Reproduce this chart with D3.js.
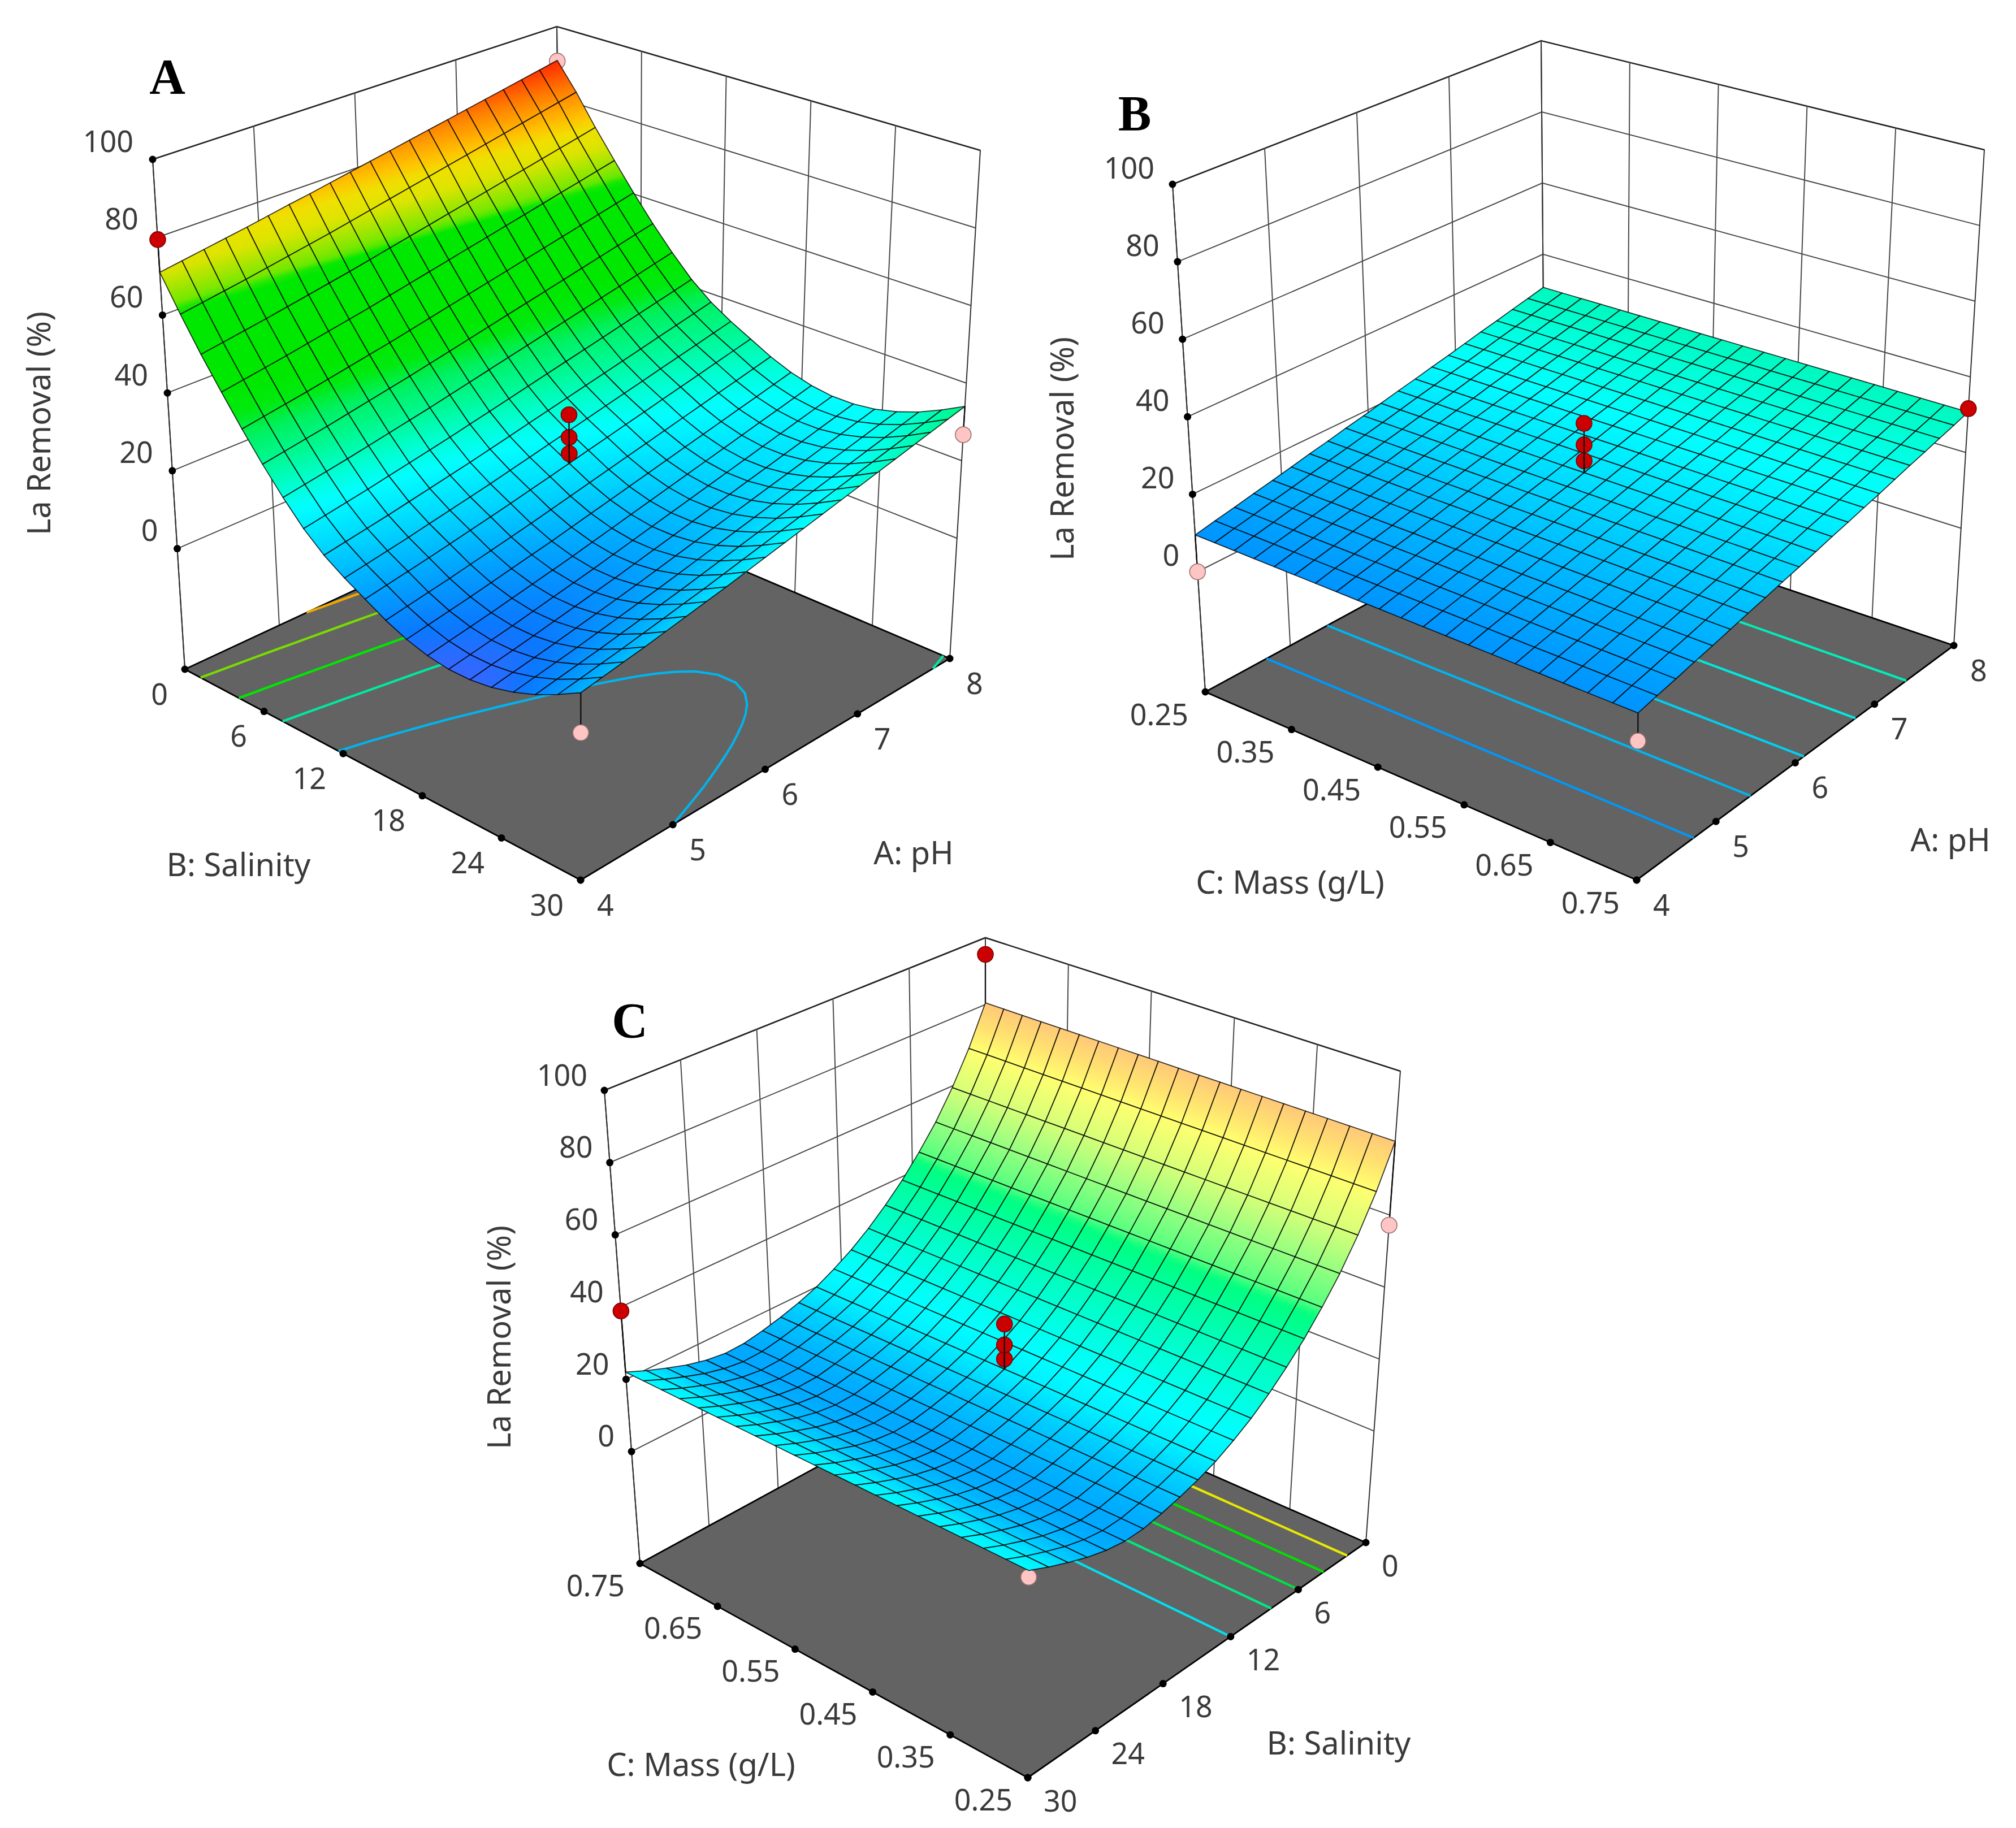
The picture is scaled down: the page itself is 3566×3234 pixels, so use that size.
<!DOCTYPE html>
<html><head><meta charset="utf-8">
<script src="https://cdn.jsdelivr.net/npm/d3@7"></script>
<style>html,body{margin:0;background:#fff}svg{display:block}</style></head>
<body><svg id="c" width="3566" height="3234" viewBox="0 0 3566 3234"></svg>
<script>
// ---------- data ----------
const zTicks=[0,20,40,60,80,100];
const pHTicks=[4,5,6,7,8];
const salinityTicks=[30,24,18,12,6,0];
const massTicksUp=[0.25,0.35,0.45,0.55,0.65,0.75];
const massTicksDown=[0.75,0.65,0.55,0.45,0.35,0.25];

// rows: salinity 30 -> 0, columns: pH 4 -> 8
const surfaceA=[
[13,13.9,14.8,15.7,16.7,17.7,18.7,19.7,20.8,21.9,23,24.1,25.2,26.3,27.4,28.5,29.6,30.7,31.8,32.9,34],
[10,10.9,11.8,12.7,13.7,14.7,15.7,16.7,17.8,18.9,20,21.1,22.2,23.3,24.4,25.5,26.6,27.7,28.8,29.9,31],
[7.4,8.3,9.2,10.1,11.1,12.1,13.1,14.1,15.2,16.3,17.4,18.5,19.6,20.7,21.8,22.9,24,25.1,26.2,27.3,28.4],
[5.4,6.3,7.2,8.1,9.1,10.1,11.1,12.1,13.2,14.3,15.4,16.5,17.6,18.7,19.8,20.9,22,23.1,24.2,25.3,26.4],
[4,4.9,5.8,6.7,7.7,8.7,9.7,10.7,11.8,12.9,14,15.1,16.2,17.3,18.4,19.5,20.6,21.7,22.8,23.9,25],
[3.3,4.2,5.1,6,7,8,9,10,11.1,12.2,13.3,14.4,15.5,16.6,17.7,18.8,19.9,21,22.1,23.2,24.3],
[3.3,4.2,5.1,6,7,8,9,10,11.1,12.2,13.3,14.4,15.5,16.6,17.7,18.8,19.9,21,22.1,23.2,24.3],
[4.1,5,5.9,6.8,7.8,8.8,9.8,10.8,11.9,13,14.1,15.2,16.3,17.4,18.5,19.6,20.7,21.8,22.9,24,25.1],
[5.6,6.5,7.4,8.3,9.3,10.3,11.3,12.3,13.4,14.5,15.6,16.7,17.8,18.9,20,21.1,22.2,23.3,24.4,25.5,26.6],
[7.8,8.7,9.6,10.5,11.5,12.5,13.5,14.5,15.6,16.7,17.8,18.9,20,21.1,22.2,23.3,24.4,25.5,26.6,27.7,28.8],
[10.6,11.5,12.4,13.3,14.3,15.3,16.3,17.3,18.4,19.5,20.6,21.7,22.8,23.9,25,26.1,27.2,28.3,29.4,30.5,31.6],
[13.4,14.3,15.2,16.1,17.1,18.1,19.1,20.1,21.2,22.3,23.4,24.5,25.6,26.7,27.8,28.9,30,31.1,32.2,33.3,34.4],
[16.7,17.6,18.5,19.4,20.4,21.4,22.4,23.4,24.5,25.6,26.7,27.8,28.9,30,31.1,32.2,33.3,34.4,35.5,36.6,37.7],
[21,21.9,22.8,23.7,24.7,25.7,26.7,27.7,28.8,29.9,31,32.1,33.2,34.3,35.4,36.5,37.6,38.7,39.8,40.9,42],
[26.5,27.4,28.3,29.2,30.2,31.2,32.2,33.2,34.3,35.4,36.5,37.6,38.7,39.8,40.9,42,43.1,44.2,45.3,46.4,47.5],
[32.6,33.5,34.4,35.3,36.3,37.3,38.3,39.3,40.4,41.5,42.6,43.7,44.8,45.9,47,48.1,49.2,50.3,51.4,52.5,53.6],
[39.3,40.2,41.1,42,43,44,45,46,47.1,48.2,49.3,50.4,51.5,52.6,53.7,54.8,55.9,57,58.1,59.2,60.3],
[46.5,47.4,48.3,49.2,50.2,51.2,52.2,53.2,54.3,55.4,56.5,57.6,58.7,59.8,60.9,62,63.1,64.2,65.3,66.4,67.5],
[54,54.9,55.8,56.7,57.7,58.7,59.7,60.7,61.8,62.9,64,65.1,66.2,67.3,68.4,69.5,70.6,71.7,72.8,73.9,75],
[62.2,63.1,64,64.9,65.9,66.9,67.9,68.9,70,71.1,72.2,73.3,74.4,75.5,76.6,77.7,78.8,79.9,81,82.1,83.2],
[71,71.9,72.8,73.7,74.6,75.6,76.6,77.5,78.5,79.5,80.5,81.5,82.5,83.5,84.5,85.5,86.5,87.5,88.5,89.5,90.5]];
// rows: mass 0.75 -> 0.25, columns: pH 4 -> 8 (mass has almost no effect)
const rowB=[9.5,10.6,11.6,12.7,13.7,14.8,15.9,16.9,18,19,20.1,21.2,22.2,23.3,24.3,25.4,26.5,27.5,28.6,29.6,30.7];
const surfaceB=[rowB,rowB,rowB,rowB,rowB,rowB,rowB,rowB,rowB,rowB,rowB,rowB,rowB,rowB,rowB,rowB,rowB,rowB,rowB,rowB,rowB];
// rows: mass 0.25 -> 0.75, columns: salinity 30 -> 0 (mass has almost no effect)
const rowC=[22,19.7,17.7,15.9,14.6,13.9,14.1,15.1,16.4,18,20,22.7,25.8,29.6,34,39,44.9,51.5,59.5,69,80.5];
const surfaceC=[rowC,rowC,rowC,rowC,rowC,rowC,rowC,rowC,rowC,rowC,rowC,rowC,rowC,rowC,rowC,rowC,rowC,rowC,rowC,rowC,rowC];

// contour levels on the floor and their colours
const contourLevelsA=[17.7,33,48.5,64,77];
const contourColorsA=["#00b4ee","#00e8a0","#00e800","#78dc00","#f0a800"];
const contourLevelsB=[13.3,17.1,20.7,24.1,27.5];
const contourColorsB=["#0098f8","#00b4f0","#00d0f0","#00e8e0","#00eeb8"];
const contourLevelsC=[25.8,36,45,55.5,68];
const contourColorsC=["#00e0f0","#00e880","#00e040","#00e000","#e8e800"];

// colour ramps: z value -> colour
const rampZA=[3,6,12,18,24,28,33,38,42,46,63,64.5,71,75,78,84,90.5];
const rampColA=["#3c64ff","#0a78ff","#00a8ff","#00d8ff","#00ffff","#00ffd0","#00f890","#00f060","#00ea10","#00e800","#00e800","#70e800","#dce400","#f0e000","#ffc000","#ff8000","#ff2800"];
const rampZB=[9,15,20,24,28,32];
const rampColB=["#0090ff","#00b8ff","#00e0ff","#00ffff","#00ffd8","#00f5b0"];
const rampZC=[14,17,20,23,33,43,45,52,60,69,75,80.5];
const rampColC=["#00a8ff","#00c8ff","#00f0ff","#00ffff","#00ffc0","#00ff80","#58ff80","#98ff80","#d8ff78","#ffff70","#ffe070","#ffc878"];

// design points
const designXA=[4,8,8,4,6,6,6], designYA=[0,0,30,30,15,15,15], designZA=[79.4,90.3,26.7,3.6,33.1,27.3,23.1];
const designKindA=["r","p","p","p","r","r","r"];
const designXB=[4,8,4,6,6,6], designYB=[0.25,0.75,0.75,0.5,0.5,0.5], designZB=[0,31.6,2.7,33,27.4,23.2];
const designKindB=["p","r","p","r","r","r"];
const designXC=[0,30,0,30,15,15,15], designYC=[0.75,0.75,0.25,0.25,0.5,0.5,0.5], designZC=[95,38.9,57.2,20.3,32.5,26.7,22.8];
const designKindC=["r","r","p","p","r","r","r"];

const zTitle="La Removal (%)", fmt2=d3.format(".2f");

// ---------- layout ----------
const panels=[
{letter:"A",letterAt:[296,135],surface:surfaceA,levels:contourLevelsA,levelCols:contourColorsA,rampZ:rampZA,rampC:rampColA,
 floor:[[1027,1557],[1680,1165],[995,873],[327,1184]],top:[[1028,570],[1734,266],[985,47],[270,282]],
 pDomain:[4,8],pTicks:pHTicks,pFmt:String,qDomain:[30,0],qTicks:salinityTicks,qFmt:String,
 dx:designXA,dy:designYA,dz:designZA,dk:designKindA,
 titles:{z:[67,749],q:["B: Salinity",422,1528],p:["A: pH",1616,1507]},off:{z:[-34,-34],q:[-30,42],p:[29,42]}},
{letter:"B",letterAt:[2007,200],surface:surfaceB,levels:contourLevelsB,levelCols:contourColorsB,rampZ:rampZB,rampC:rampColB,
 floor:[[2895,1557],[3456,1142],[2733,897],[2132,1224]],top:[[2903,601],[3510,265],[2726,72],[2074,326]],
 pDomain:[4,8],pTicks:pHTicks,pFmt:String,qDomain:[0.75,0.25],qTicks:massTicksDown,qFmt:fmt2,
 dx:designXB,dy:designYB,dz:designZB,dk:designKindB,
 titles:{z:[1877,794],q:["C: Mass (g/L)",2282,1559],p:["A: pH",3450,1484]},off:{z:[-32,-31],q:[-30,38],p:[29,42]}},
{letter:"C",letterAt:[1114,1805],surface:surfaceC,levels:contourLevelsC,levelCols:contourColorsC,rampZ:rampZC,rampC:rampColC,
 floor:[[1818,3145],[2416,2729],[1743,2433],[1132,2766]],top:[[1822,2239],[2477,1895],[1743,1659],[1069,1929]],
 pDomain:[30,0],pTicks:salinityTicks,pFmt:String,qDomain:[0.25,0.75],qTicks:massTicksUp,qFmt:fmt2,
 dx:designXC,dy:designYC,dz:designZC,dk:designKindC,
 titles:{z:[881,2366],q:["C: Mass (g/L)",1240,3120],p:["B: Salinity",2368,3082]},off:{z:[-30,-29],q:[-27,37],p:[28,39]}}
];
const zFloor=-31, zTop=100, FONT="'Noto Sans',sans-serif", TXT="#3a3a3a", FS=52, FST=56;

// face maps: perspective for surface and points, even spacing for axes and walls
function homography(c){
 const [[x0,y0],[x1,y1],[x2,y2],[x3,y3]]=c;
 const dx1=x1-x2,dx2=x3-x2,sx=x0-x1+x2-x3,dy1=y1-y2,dy2=y3-y2,sy=y0-y1+y2-y3;
 const den=dx1*dy2-dx2*dy1,G=(sx*dy2-dx2*sy)/den,H=(dx1*sy-sx*dy1)/den;
 const a=x1-x0+G*x1,b=x3-x0+H*x3,d=y1-y0+G*y1,e=y3-y0+H*y3;
 return (u,v)=>{const w=G*u+H*v+1;return [(a*u+b*v+x0)/w,(d*u+e*v+y0)/w];};
}
function bilinear(c){
 return (u,v)=>[0,1].map(k=>(1-u)*(1-v)*c[0][k]+u*(1-v)*c[1][k]+u*v*c[2][k]+(1-u)*v*c[3][k]);
}
const mix=(a,b,r)=>[a[0]+(b[0]-a[0])*r,a[1]+(b[1]-a[1])*r];

const svg=d3.select("#c"),defs=svg.append("defs");
let gid=0;
panels.forEach(P=>{
 const hF=homography(P.floor),hT=homography(P.top),bF=bilinear(P.floor),bT=bilinear(P.top);
 const pr=(p,q,r)=>mix(hF(p,q),hT(p,q),r);   // surface + design points
 const ax=(p,q,r)=>mix(bF(p,q),bT(p,q),r);   // axes, walls, floor
 const pS=d3.scaleLinear().domain(P.pDomain).range([0,1]);
 const qS=d3.scaleLinear().domain(P.qDomain).range([0,1]);
 const rS=d3.scaleLinear().domain([zFloor,zTop]).range([0,1]);
 const n=P.surface.length;
 const gridS=d3.scaleLinear().domain([0,n-1]).range([0,1]);
 const color=d3.scaleLinear().domain(P.rampZ).range(P.rampC).clamp(true);
 const g=svg.append("g");
 const line=(a,b,col,w)=>g.append("line").attr("x1",a[0]).attr("y1",a[1]).attr("x2",b[0]).attr("y2",b[1]).attr("stroke",col).attr("stroke-width",w).attr("stroke-linecap","round");
 const dot=(a,r=6.5)=>g.append("circle").attr("cx",a[0]).attr("cy",a[1]).attr("r",r).attr("fill","#000");
 const WALL="#4a4a4a";
 // wall grid
 zTicks.forEach(z=>{const r=rS(z);const a=ax(0,1,r),b=ax(1,1,r),c=ax(1,0,r);
  g.append("path").attr("d",d3.line()([a,b,c])).attr("fill","none").attr("stroke",z===100?"#222":WALL).attr("stroke-width",z===100?2.6:2);});
 P.pTicks.forEach(v=>{const p=pS(v);line(ax(p,1,0),ax(p,1,1),p===0||p===1?"#333":WALL,2);});
 P.qTicks.forEach(v=>{const q=qS(v);line(ax(1,q,0),ax(1,q,1),q===0||q===1?"#333":WALL,2);});
 line(ax(0,1,0),ax(0,1,1),"#333",2);
 // floor
 g.append("path").attr("d",d3.line().curve(d3.curveLinearClosed)(P.floor)).attr("fill","#636363").attr("stroke","#000").attr("stroke-width",2.8);
 // floor contours
 const flat=P.surface.flat();
 const rings=d3.contours().size([n,n]).thresholds(P.levels)(flat);
 const lineGen=d3.line();
 const smooth=a=>{let b=a;for(let t=0;t<2;t++){b=b.map((d,i)=>(i===0||i===b.length-1)?d:[(b[i-1][0]+2*d[0]+b[i+1][0])/4,(b[i-1][1]+2*d[1]+b[i+1][1])/4]);}return b;};
 rings.forEach((cn,li)=>{
  const conv=d=>{const cl=v=>Math.max(0,Math.min(1,(v-0.5)/(n-1)));return [cl(d[0]),cl(d[1])];};
  const polylines=[];
  cn.coordinates.forEach(poly=>poly.forEach(ring=>{
   let cur=null;
   for(let i=1;i<ring.length;i++){
    const a=conv(ring[i-1]),b=conv(ring[i]);
    const same=(a[0]===b[0]&&(a[0]===0||a[0]===1))||(a[1]===b[1]&&(a[1]===0||a[1]===1));
    if(same){if(cur)polylines.push(cur);cur=null;continue;}
    if(!cur)cur=[a];
    cur.push(b);
   }
   if(cur)polylines.push(cur);
  }));
  polylines.forEach(pl=>g.append("path").attr("d",lineGen(smooth(pl).map(d=>ax(d[0],d[1],0)))).attr("fill","none").attr("stroke",P.levelCols[li]).attr("stroke-width",4.2).attr("stroke-linejoin","round"));
 });
 // ticks + labels
 const text=(s,x,y,anchor,fs=FS)=>g.append("text").attr("x",x).attr("y",y).attr("text-anchor",anchor).attr("dominant-baseline","central")
   .attr("font-family",FONT).attr("font-size",fs).attr("fill",TXT).text(s);
 zTicks.forEach(z=>{const a=ax(0,1,rS(z));dot(a);text(String(z),a[0]+P.off.z[0],a[1]+P.off.z[1],"end");});
 P.qTicks.forEach(v=>{const a=ax(0,qS(v),0);dot(a);text(P.qFmt(v),a[0]+P.off.q[0],a[1]+P.off.q[1],"end");});
 P.pTicks.forEach(v=>{const a=ax(pS(v),0,0);dot(a);text(P.pFmt(v),a[0]+P.off.p[0],a[1]+P.off.p[1],"start");});
 // design points
 const pts=P.dx.map((x,i)=>{const p=pS(x),q=qS(P.dy[i]);
  const sz=P.surface[Math.round(q*(n-1))][Math.round(p*(n-1))];
  return {p,q,z:P.dz[i],sz,kind:P.dk[i],above:P.dz[i]>sz};});
 const drawPt=d=>{const c=pr(d.p,d.q,rS(d.z)),s=pr(d.p,d.q,rS(d.sz));
  g.append("line").attr("x1",c[0]).attr("y1",c[1]).attr("x2",s[0]).attr("y2",s[1]).attr("stroke","#111").attr("stroke-width",2.4);
  g.append("circle").attr("cx",c[0]).attr("cy",c[1]).attr("r",14)
   .attr("fill",d.kind==="r"?"#cc0000":"#ffc4c4").attr("stroke",d.kind==="r"?"#7a0000":"#9a7070").attr("stroke-width",1.6);};
 pts.filter(d=>!d.above).forEach(drawPt);
 // surface, back cells first
 const cells=[];
 for(let i=0;i<n-1;i++)for(let j=0;j<n-1;j++)cells.push([i,j]);
 cells.sort((a,b)=>(b[0]+b[1])-(a[0]+a[1]));
 cells.forEach(([i,j])=>{
  const zs=[P.surface[i][j],P.surface[i][j+1],P.surface[i+1][j+1],P.surface[i+1][j]];
  const c=[pr(gridS(j),gridS(i),rS(zs[0])),pr(gridS(j+1),gridS(i),rS(zs[1])),pr(gridS(j+1),gridS(i+1),rS(zs[2])),pr(gridS(j),gridS(i+1),rS(zs[3]))];
  const e1=[(c[1][0]+c[2][0]-c[0][0]-c[3][0])/2,(c[1][1]+c[2][1]-c[0][1]-c[3][1])/2],d1=(zs[1]+zs[2]-zs[0]-zs[3])/2;
  const e2=[(c[2][0]+c[3][0]-c[0][0]-c[1][0])/2,(c[2][1]+c[3][1]-c[0][1]-c[1][1])/2],d2=(zs[2]+zs[3]-zs[0]-zs[1])/2;
  const det=e1[0]*e2[1]-e1[1]*e2[0];
  const cx=d3.mean(c,d=>d[0]),cy=d3.mean(c,d=>d[1]),zc=d3.mean(zs);
  let fill=color(zc);
  if(Math.abs(det)>1e-3){
   const G=[(d1*e2[1]-d2*e1[1])/det,(e1[0]*d2-e2[0]*d1)/det],G2=G[0]*G[0]+G[1]*G[1];
   const lo=d3.min(zs),hi=d3.max(zs);
   if(G2>1e-9&&hi>lo){
    const id="g"+(gid++),lg=defs.append("linearGradient").attr("id",id).attr("gradientUnits","userSpaceOnUse")
     .attr("x1",cx+G[0]*(lo-zc)/G2).attr("y1",cy+G[1]*(lo-zc)/G2).attr("x2",cx+G[0]*(hi-zc)/G2).attr("y2",cy+G[1]*(hi-zc)/G2);
    [0,0.125,0.25,0.375,0.5,0.625,0.75,0.875,1].forEach(t=>lg.append("stop").attr("offset",t).attr("stop-color",color(lo+t*(hi-lo))));
    fill=`url(#${id})`;
   }}
  g.append("path").attr("d",d3.line().curve(d3.curveLinearClosed)(c)).attr("fill",fill).attr("stroke","#000").attr("stroke-opacity",0.78).attr("stroke-width",1.8).attr("stroke-linejoin","round");
 });
 pts.filter(d=>d.above).sort((a,b)=>a.z-b.z).forEach(drawPt);
 text(P.titles.q[0],P.titles.q[1],P.titles.q[2],"middle",FST);
 text(P.titles.p[0],P.titles.p[1],P.titles.p[2],"middle",FST);
 g.append("text").attr("transform",`translate(${P.titles.z[0]},${P.titles.z[1]}) rotate(-90)`).attr("text-anchor","middle").attr("dominant-baseline","central")
  .attr("font-family",FONT).attr("font-size",FST).attr("fill",TXT).text(zTitle);
 g.append("text").attr("x",P.letterAt[0]).attr("y",P.letterAt[1]).attr("text-anchor","middle").attr("dominant-baseline","central")
  .attr("font-family","'Liberation Serif',serif").attr("font-weight","bold").attr("font-size",88).attr("fill","#000").text(P.letter);
});
</script></body></html>
